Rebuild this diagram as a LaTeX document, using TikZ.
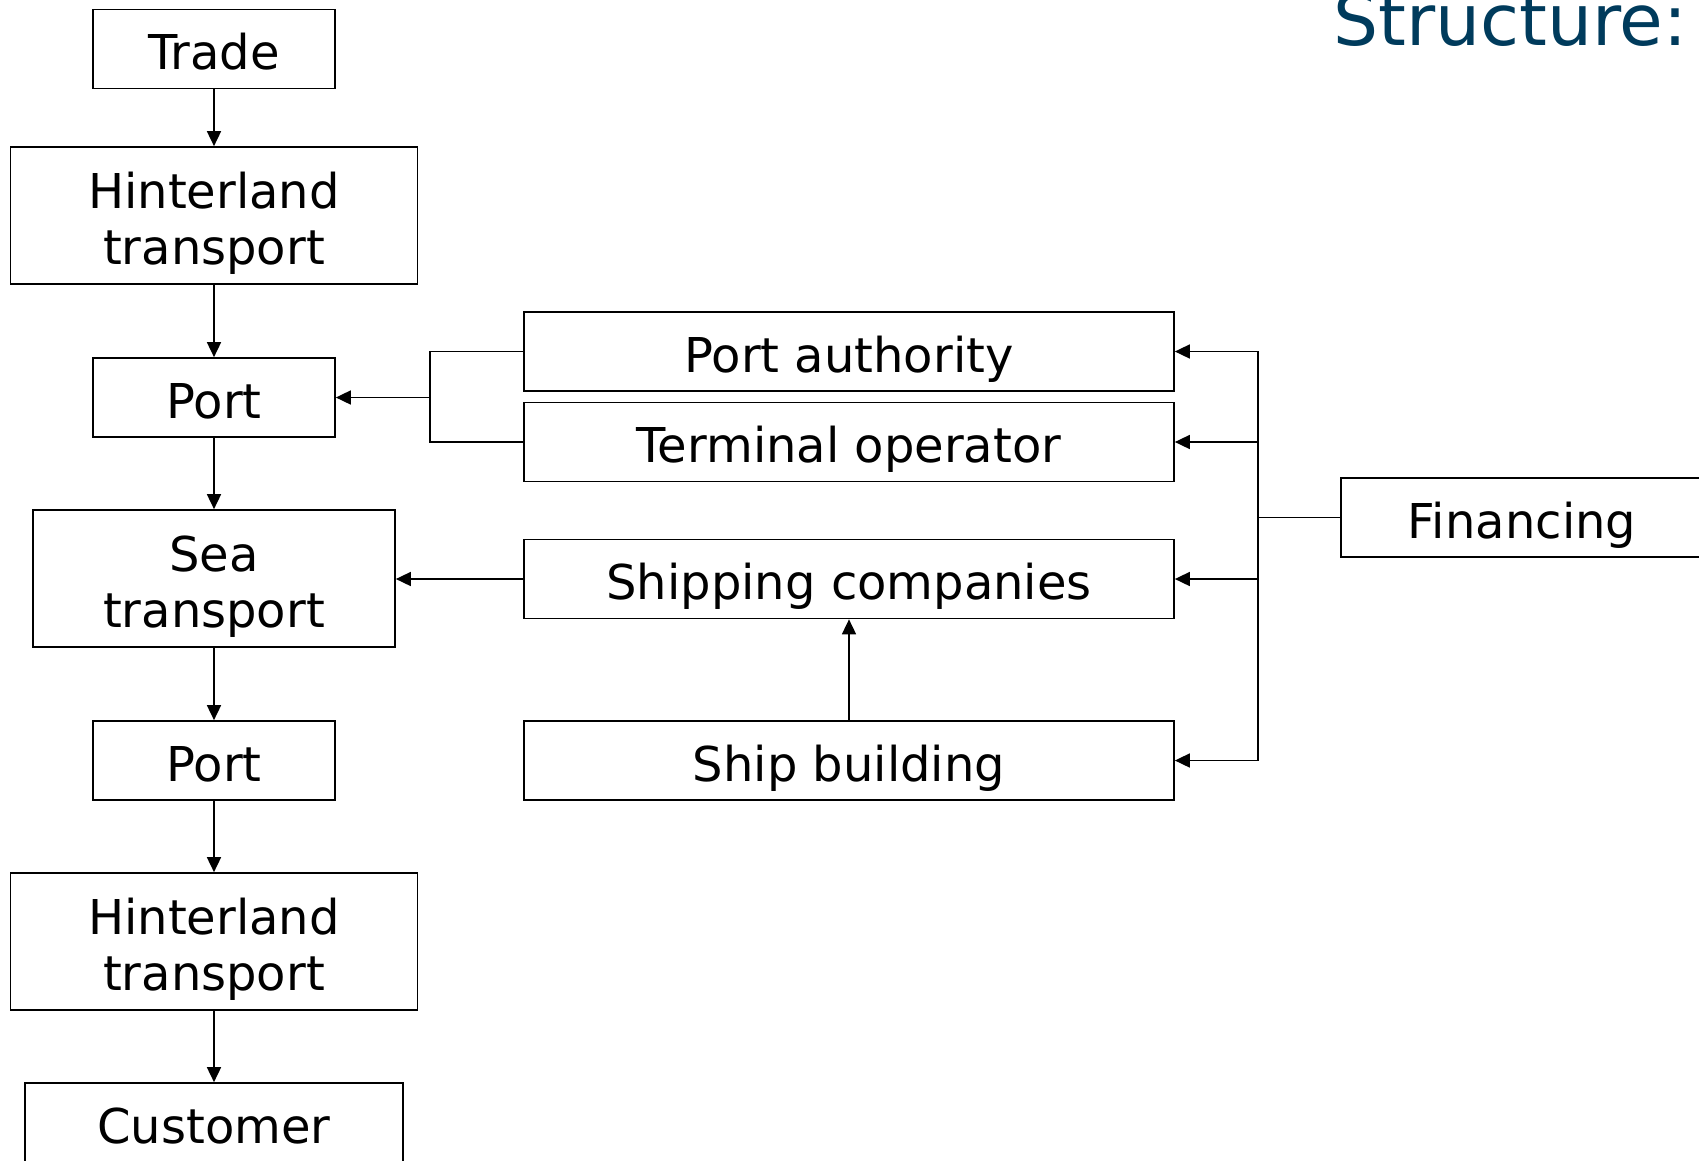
\documentclass[tikz,border=0pt]{standalone}
\usepackage{fontspec}
\setmainfont{DejaVu Sans}
\usetikzlibrary{arrows.meta}
\definecolor{titleblue}{RGB}{0,59,92}
\begin{document}
\begin{tikzpicture}[x=1pt,y=-1pt,
  box/.style={draw=black,line width=1.7pt,fill=white,inner sep=0pt,align=center,
    font=\fontsize{48}{56}\selectfont,text height=45pt,text depth=4pt},
  twoline/.style={box,text height=101pt,text depth=4pt},
  smallbox/.style={box,minimum width=242pt,minimum height=79pt},
  widebox/.style={twoline,minimum width=407pt,minimum height=137pt},
  rolebox/.style={box,minimum width=650pt,minimum height=79pt},
  link/.style={line width=1.7pt},
  arr/.style={link,-{Triangle[length=15pt,width=14pt]}}]
\useasboundingbox (0,0) rectangle (1699,1160);
\clip (0,0) rectangle (1699,1160);

% title
\node[anchor=base west,inner sep=0pt,text=titleblue,font=\fontsize{71}{80}\selectfont]
  (title) at (1333,45) {Structure:};

% main chain
\node[smallbox] (trade) at (214,49) {Trade};
\node[widebox]  (hin1)  at (214,215.5) {Hinterland\\transport};
\node[smallbox] (port1) at (214,397.5) {Port};
\node[twoline,minimum width=362pt,minimum height=137pt] (sea) at (214,578.5) {Sea\\transport};
\node[smallbox] (port2) at (214,760.5) {Port};
\node[widebox]  (hin2)  at (214,941.5) {Hinterland\\transport};
\node[box,minimum width=378pt,minimum height=79pt] (cust) at (214,1122.5) {Customer};

% actors
\node[rolebox] (pa) at (849,351.5) {Port authority};
\node[rolebox] (to) at (849,442) {Terminal operator};
\node[rolebox] (sc) at (849,579) {Shipping companies};
\node[rolebox] (sb) at (849,760.5) {Ship building};
\node[box,minimum width=362pt,minimum height=79pt] (fin) at (1522,517.5) {Financing};

% chain arrows
\draw[arr] (trade.south) -- (hin1.north);
\draw[arr] (hin1.south) -- (port1.north);
\draw[arr] (port1.south) -- (sea.north);
\draw[arr] (sea.south) -- (port2.north);
\draw[arr] (port2.south) -- (hin2.north);
\draw[arr] (hin2.south) -- (cust.north);

% port actors merge into the port
\coordinate (pj) at (430,397.5);
\draw[link] (pa.west) -- (pa.west -| pj) -- (to.west -| pj) -- (to.west);
\draw[arr] (pj) -- (port1.east);

% shipping
\draw[arr] (sc.west) -- (sea.east |- sc.west);
\draw[arr] (sb.north) -- (sc.south);

% financing bus
\coordinate (fj) at (1258,517.5);
\draw[link] (fin.west) -- (fj);
\draw[arr] (fj) |- (pa.east);
\draw[arr] (fj) |- (to.east);
\draw[arr] (fj) |- (sc.east);
\draw[arr] (fj) |- (sb.east);
\end{tikzpicture}
\end{document}
